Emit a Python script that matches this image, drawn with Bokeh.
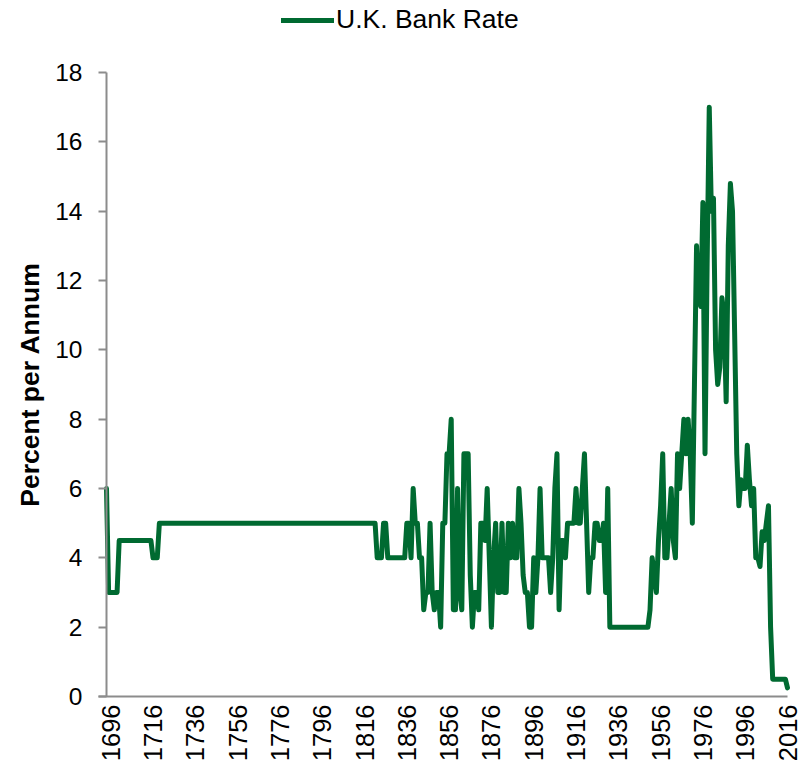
import math
from bokeh.plotting import figure
from bokeh.models import Range1d, FixedTicker, Legend, LegendItem, ColumnDataSource
from bokeh.embed import file_html
from bokeh.resources import INLINE

# ---------------- data ----------------
years = list(range(1694, 2017))

bank_rate = [
    # 1694-1699
    6, 3, 3, 3, 3, 3,
    # 1700-1709
    4.5, 4.5, 4.5, 4.5, 4.5, 4.5, 4.5, 4.5, 4.5, 4.5,
    # 1710-1719
    4.5, 4.5, 4.5, 4.5, 4.5, 4.5, 4, 4, 4, 5,
    # 1720-1819
    5, 5, 5, 5, 5, 5, 5, 5, 5, 5,
    5, 5, 5, 5, 5, 5, 5, 5, 5, 5,
    5, 5, 5, 5, 5, 5, 5, 5, 5, 5,
    5, 5, 5, 5, 5, 5, 5, 5, 5, 5,
    5, 5, 5, 5, 5, 5, 5, 5, 5, 5,
    5, 5, 5, 5, 5, 5, 5, 5, 5, 5,
    5, 5, 5, 5, 5, 5, 5, 5, 5, 5,
    5, 5, 5, 5, 5, 5, 5, 5, 5, 5,
    5, 5, 5, 5, 5, 5, 5, 5, 5, 5,
    5, 5, 5, 5, 5, 5, 5, 5, 5, 5,
    # 1820-1829
    5, 5, 4, 4, 4, 5, 5, 4, 4, 4,
    # 1830-1839
    4, 4, 4, 4, 4, 4, 5, 5, 4, 6,
    # 1840-1849
    5, 5, 4, 4, 2.5, 3, 3, 5, 3, 2.5,
    # 1850-1859
    3, 3, 2, 5, 5, 7, 7, 8, 2.5, 2.5,
    # 1860-1869
    6, 3, 2.5, 7, 7, 7, 3.5, 2, 3, 3,
    # 1870-1879
    2.5, 5, 5, 4.5, 6, 4, 2, 4, 5, 3,
    # 1880-1889
    3, 5, 3, 3, 5, 4, 5, 4, 4, 6,
    # 1890-1899
    5, 3.5, 3, 3, 2, 2, 4, 3, 4, 6,
    # 1900-1909
    4, 4, 4, 4, 3, 4, 6, 7, 2.5, 4.5,
    # 1910-1919
    4.5, 4, 5, 5, 5, 5, 6, 5, 5, 6,
    # 1920-1929
    7, 5, 3, 4, 4, 5, 5, 4.5, 4.5, 5,
    # 1930-1939
    3, 6, 2, 2, 2, 2, 2, 2, 2, 2,
    # 1940-1949
    2, 2, 2, 2, 2, 2, 2, 2, 2, 2,
    # 1950-1959
    2, 2.5, 4, 3.5, 3, 4.5, 5.5, 7, 4, 4,
    # 1960-1969
    5, 6, 4.5, 4, 7, 6, 7, 8, 7, 8,
    # 1970-1979
    7, 5, 9, 13, 11.5, 11.25, 14.25, 7, 12.5, 17,
    # 1980-1989
    14, 14.375, 10, 9, 9.5, 11.5, 11, 8.5, 13, 14.8,
    # 1990-1999
    14, 10.5, 7, 5.5, 6.25, 6, 6, 7.25, 6.25, 5.5,
    # 2000-2009
    6, 4, 4, 3.75, 4.75, 4.5, 5, 5.5, 2, 0.5,
    # 2010-2016
    0.5, 0.5, 0.5, 0.5, 0.5, 0.5, 0.25,
]

x_tick_years = [1696, 1716, 1736, 1756, 1776, 1796, 1816, 1836, 1856,
                1876, 1896, 1916, 1936, 1956, 1976, 1996, 2016]
y_ticks = [0, 2, 4, 6, 8, 10, 12, 14, 16, 18]
series_name = "U.K. Bank Rate"
y_axis_title = "Percent per Annum"

# ---------------- styling / geometry ----------------
FONT = "Liberation Sans"
LINE_COLOR = "#006A31"
AXIS_COLOR = "#8C8C8C"

W, H = 801, 772
# target pixel box of the plotting area (inside the canvas)
PX_LEFT, PX_RIGHT, PX_TOP, PX_BOTTOM = 106, 787, 72, 696
TICK_LEN = 8
x0, x1 = years[0], years[-1]
y0, y1 = 0, 18
sx = (PX_RIGHT - PX_LEFT) / (x1 - x0)
sy = (PX_BOTTOM - PX_TOP) / (y1 - y0)
x_range = Range1d(x0 - PX_LEFT / sx, x1 + (W - PX_RIGHT) / sx)
y_range = Range1d(y0 - (H - PX_BOTTOM) / sy, y1 + PX_TOP / sy)

p = figure(width=W, height=H, output_backend="svg", toolbar_location=None,
           x_range=x_range, y_range=y_range,
           min_border=0, min_border_left=0, min_border_right=0,
           min_border_top=0, min_border_bottom=0)
p.outline_line_color = None
p.background_fill_color = "white"
p.border_fill_color = "white"
p.xgrid.grid_line_color = None
p.ygrid.grid_line_color = None

src = ColumnDataSource(dict(x=years, y=bank_rate))
r = p.line("x", "y", source=src, line_color=LINE_COLOR, line_width=5,
           line_join="round", line_cap="round")

# x axis (drawn at y = 0 inside the canvas)
xa = p.xaxis[0]
xa.fixed_location = y0
xa.bounds = (x0 - TICK_LEN / sx, x1)
xa.ticker = FixedTicker(ticks=x_tick_years)
xa.major_label_orientation = math.pi / 2
xa.major_tick_line_color = None
xa.minor_tick_line_color = None
xa.major_tick_out = 0
xa.major_tick_in = 0
xa.axis_line_color = AXIS_COLOR
xa.axis_line_width = 2
xa.major_label_text_font = FONT
xa.major_label_text_font_size = "25.5px"
xa.major_label_text_color = "black"
xa.major_label_standoff = 8

# y axis (drawn at the first year)
ya = p.yaxis[0]
ya.fixed_location = x0
ya.bounds = (y0, y1)
ya.ticker = FixedTicker(ticks=y_ticks)
ya.minor_tick_line_color = None
ya.major_tick_out = TICK_LEN
ya.major_tick_in = 0
ya.major_tick_line_color = AXIS_COLOR
ya.major_tick_line_width = 2
ya.axis_line_color = AXIS_COLOR
ya.axis_line_width = 2
ya.major_label_text_font = FONT
ya.major_label_text_font_size = "24.5px"
ya.major_label_text_color = "black"
ya.major_label_standoff = 16
ya.axis_label = y_axis_title
ya.axis_label_text_font = FONT
ya.axis_label_text_font_size = "26.5px"
ya.axis_label_text_font_style = "bold"
ya.axis_label_text_color = "black"
ya.axis_label_standoff = 7

# legend at the top of the canvas
legend = Legend(items=[LegendItem(label=series_name, renderers=[r])],
                location=(285 - 4, H - 35), orientation="horizontal",
                glyph_width=53, glyph_height=28, label_height=28,
                label_standoff=2, padding=4, margin=0, spacing=0,
                border_line_color=None, background_fill_alpha=0,
                label_text_font=FONT, label_text_font_size="26.5px",
                label_text_color="black")
p.add_layout(legend, "center")

open("out.html", "w").write(file_html(p, INLINE))
